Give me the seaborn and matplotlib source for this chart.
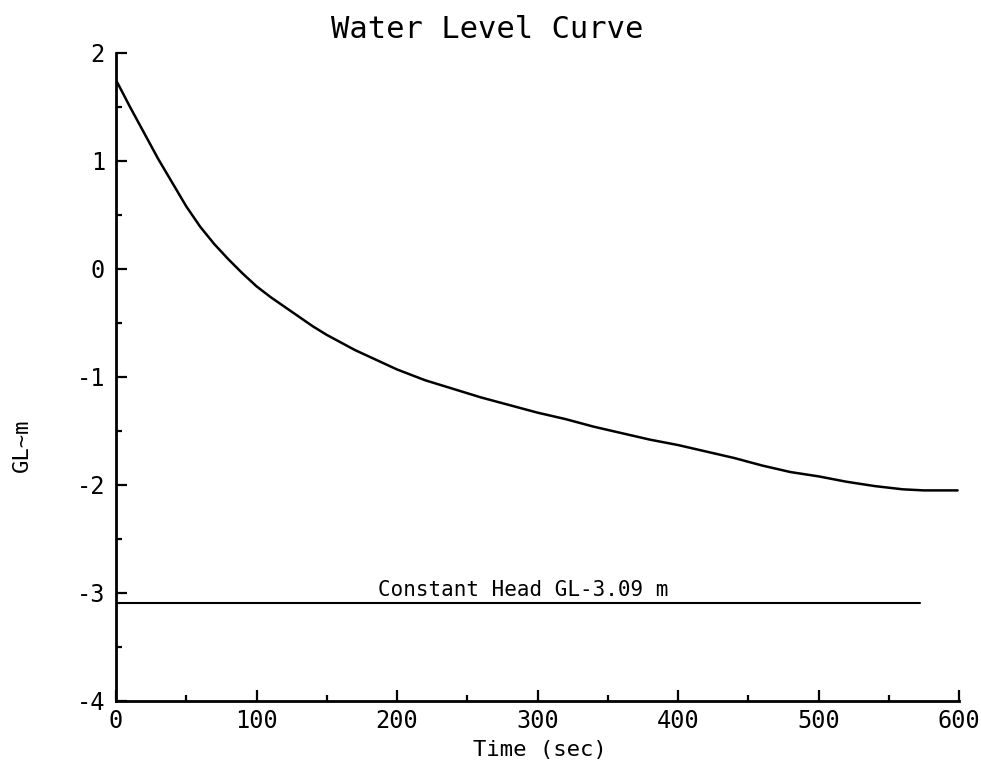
import matplotlib
matplotlib.use("Agg")
import matplotlib.pyplot as plt
import seaborn as sns
import pandas as pd
from matplotlib.ticker import MultipleLocator

# Data
time_sec = [0, 10, 20, 30, 40, 50, 60, 70, 80, 90, 100, 110, 120, 130, 140,
            150, 160, 170, 180, 190, 200, 220, 240, 260, 280, 300, 320, 340,
            360, 380, 400, 420, 440, 460, 480, 500, 520, 540, 560, 575, 599]
water_level = [1.75, 1.50, 1.26, 1.02, 0.80, 0.58, 0.39, 0.23, 0.09, -0.04,
               -0.16, -0.26, -0.35, -0.44, -0.53, -0.61, -0.68, -0.75, -0.81,
               -0.87, -0.93, -1.03, -1.11, -1.19, -1.26, -1.33, -1.39, -1.46,
               -1.52, -1.58, -1.63, -1.69, -1.75, -1.82, -1.88, -1.92, -1.97,
               -2.01, -2.04, -2.05, -2.05]
const_time = [0, 572]
const_head = [-3.09, -3.09]
x_ticks = [0, 100, 200, 300, 400, 500, 600]
y_ticks = [-4, -3, -2, -1, 0, 1, 2]

title = "Water Level Curve"
xlabel = "Time (sec)"
ylabel = "GL~m"
const_label = "Constant Head GL-3.09 m"

sns.set_style("ticks")
plt.rcParams['font.family'] = ['DejaVu Sans Mono', 'DejaVu Sans']
plt.rcParams['axes.unicode_minus'] = False
plt.rcParams['text.color'] = 'black'
plt.rcParams['xtick.color'] = 'black'
plt.rcParams['ytick.color'] = 'black'
plt.rcParams['xtick.labelcolor'] = 'black'
plt.rcParams['ytick.labelcolor'] = 'black'

fig = plt.figure(figsize=(9.81, 7.62), dpi=100)
ax = fig.add_axes([116 / 981, 1 - 701 / 762, 843 / 981, 648 / 762])

curve = pd.DataFrame({"t": time_sec, "h": water_level})
const = pd.DataFrame({"t": const_time, "h": const_head})
sns.lineplot(data=curve, x="t", y="h", ax=ax, color="black", linewidth=1.8,
             sort=False)
sns.lineplot(data=const, x="t", y="h", ax=ax, color="black", linewidth=1.5,
             sort=False)

ax.set_xlim(0, 600)
ax.set_ylim(-4, 2)
ax.set_xticks(x_ticks)
ax.set_yticks(y_ticks)
ax.xaxis.set_minor_locator(MultipleLocator(50))
ax.yaxis.set_minor_locator(MultipleLocator(0.5))
ax.set_xlabel("")
ax.set_ylabel("")

for s in ["top", "right"]:
    ax.spines[s].set_visible(False)
for s in ["left", "bottom"]:
    ax.spines[s].set_linewidth(2.0)
    ax.spines[s].set_color("black")

ax.tick_params(which="major", direction="in", length=8, width=1.6,
               labelsize=17, color="black", labelcolor="black")
ax.tick_params(which="minor", direction="in", length=4.5, width=1.6,
               color="black")
ax.tick_params(axis="y", which="major", pad=8)
ax.tick_params(axis="x", which="major", pad=6)

ax.text(290, -3.025, const_label, ha="center", va="baseline", fontsize=15,
        color="black")

fig.text(487 / 981, 1 - 30 / 762, title, ha="center", va="center",
         fontsize=22, color="black")
fig.text(540 / 981, 1 - 750 / 762, xlabel, ha="center", va="center",
         fontsize=16, color="black")
fig.text(22 / 981, 1 - 445 / 762, ylabel, ha="center", va="center",
         rotation=90, fontsize=16, color="black")

fig.savefig("out.png", dpi=100, facecolor="white")
